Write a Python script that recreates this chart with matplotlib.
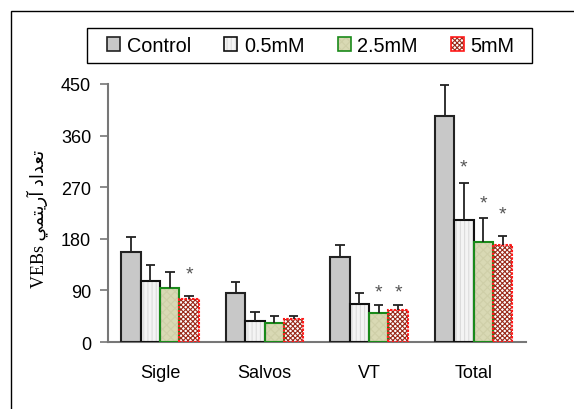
import numpy as np
import matplotlib
matplotlib.use("Agg")
import matplotlib.pyplot as plt
from matplotlib.patches import Patch, Rectangle
from matplotlib.legend_handler import HandlerTuple

categories = ["Sigle", "Salvos", "VT", "Total"]
series = ["Control", "0.5mM", "2.5mM", "5mM"]
means = {
    "Control": [157, 85, 148, 395],
    "0.5mM": [106, 37, 66, 212],
    "2.5mM": [95, 34, 50, 175],
    "5mM": [75, 40, 56, 169],
}
errors = {
    "Control": [27, 20, 22, 53],
    "0.5mM": [29, 16, 20, 65],
    "2.5mM": [27, 12, 15, 42],
    "5mM": [6, 6, 9, 16],
}
# significance marks: (category index, series index, height)
stars = [(0, 3, 118), (2, 2, 88), (2, 3, 88), (3, 1, 306), (3, 2, 242), (3, 3, 223)]
yticks = [0, 90, 180, 270, 360, 450]

# fill, hatch, hatch colour, edge colour
styles = {
    "Control": ("#c8c8c8", None, None, "#222222"),
    "0.5mM": ("#f4f4f4", "||||", "#dcdcdc", "#111111"),
    "2.5mM": ("#d9d9b4", "xxxx", "#cfcfa8", "#1a8a1a"),
    "5mM": ("#ffffff", "xxxxxxx", "#9a2a1a", "#ff1a1a"),
}

plt.rcParams["font.family"] = ["Liberation Sans", "DejaVu Sans"]
plt.rcParams["hatch.linewidth"] = 0.8

fig = plt.figure(figsize=(5.74, 4.10), dpi=100)
ax = fig.add_axes([0.188, 0.1634, 0.728, 0.6293])

# outer frame (only left and top visible in the picture)
fig.add_artist(Rectangle((11 / 574, -0.1), 1.2, 1 - 12 / 410 + 0.1,
                         transform=fig.transFigure, fill=False,
                         edgecolor="black", linewidth=1.0))

x = np.arange(len(categories))
w = 0.185
handles = []
for i, name in enumerate(series):
    fc, hatch, hc, ec = styles[name]
    pos = x + (i - 1.5) * w
    vals = np.array(means[name])
    errs = np.array(errors[name])
    ax.bar(pos, vals, w, color=fc, hatch=hatch,
           edgecolor=hc if hc else fc, linewidth=0, zorder=2)
    ls = (0, (1.2, 0.6)) if name == "5mM" else "-"
    ax.bar(pos, vals, w, fill=False, edgecolor=ec, linewidth=1.5,
           linestyle=ls, zorder=3)
    ax.vlines(pos, vals, vals + errs, color="#222222", linewidth=1.3, zorder=4)
    ax.hlines(vals + errs, pos - 0.045, pos + 0.045, color="#222222",
              linewidth=1.3, zorder=4)
    h1 = Patch(facecolor=fc, hatch=hatch, edgecolor=hc if hc else fc, linewidth=0)
    h2 = Patch(fill=False, edgecolor=ec, linewidth=1.2)
    handles.append((h1, h2))

for ci, si, h in stars:
    ax.text(x[ci] + (si - 1.5) * w, h, "*", ha="center", va="center",
            fontsize=14, color="#555555", zorder=5)

ax.set_xlim(-0.5, 3.5)
ax.set_ylim(0, 450)
ax.set_yticks(yticks)
ax.set_xticks(x)
ax.set_xticklabels(categories)
ax.tick_params(axis="x", length=0, pad=16, labelsize=13)
ax.tick_params(axis="y", length=6, width=1.2, color="#777777", pad=6,
               labelsize=13)
for s in ["top", "right"]:
    ax.spines[s].set_visible(False)
for s in ["left", "bottom"]:
    ax.spines[s].set_color("#777777")
    ax.spines[s].set_linewidth(1.5)

# y label: Persian text written in visual order with presentation forms
label = "VEBs " + "\ufef2\ufee4\ufe98\ufef3\ufead\ufe81" + " " + "\ufea9\ufe8d\ufeaa\ufecc\ufe97"
ax.set_ylabel(label, family=["Liberation Serif", "DejaVu Sans"], fontsize=13)
ax.yaxis.set_label_coords(-0.1555, 0.48)
ax.yaxis.label.set_verticalalignment("baseline")

# legend box drawn separately so the entries can sit inside with wide margins
fig.add_artist(Rectangle((87 / 574, 1 - 64 / 410), 445 / 574, 35 / 410,
                         transform=fig.transFigure, fill=False,
                         edgecolor="black", linewidth=1.0))
leg = fig.legend(handles, series, ncol=4, loc="center",
                 bbox_to_anchor=(311 / 574, 1 - 46.5 / 410),
                 borderaxespad=0, borderpad=0, fontsize=14.3,
                 handler_map={tuple: HandlerTuple(ndivide=1, pad=0)},
                 handlelength=0.65, handleheight=0.65, handletextpad=0.33,
                 columnspacing=1.68, frameon=False)

fig.savefig("out.png", dpi=100)
